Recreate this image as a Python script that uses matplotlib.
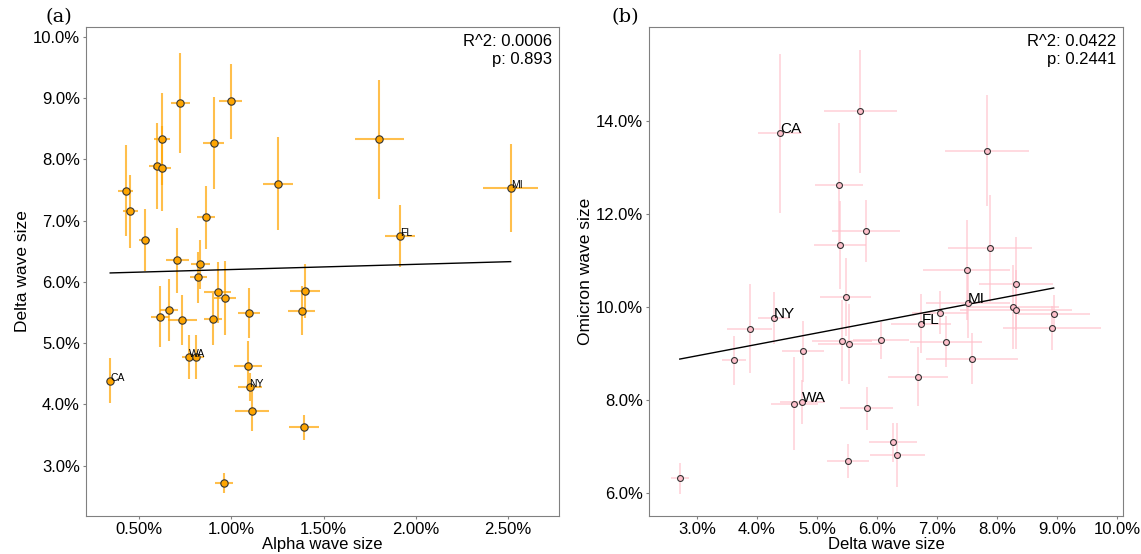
'''
Wave size correlations between successive COVID variants, per state.
'''

import numpy as np
import matplotlib
matplotlib.use('Agg')
import matplotlib.pyplot as plt
from matplotlib.ticker import PercentFormatter

# (a) Alpha vs Delta wave size, in percent
ALPHA = [0.723, 0.996, 0.625, 0.905, 1.802, 0.595, 0.626, 1.253, 2.514, 0.427,
         0.453, 0.862, 0.530, 1.915, 0.707, 0.832, 0.822, 0.927, 0.966, 1.401,
         1.381, 1.095, 0.662, 0.615, 0.735, 0.901, 0.773, 0.810, 1.093, 1.099,
         0.344, 1.113, 1.395, 0.962]
ALPHA_ERR = [0.052, 0.063, 0.041, 0.057, 0.133, 0.043, 0.050, 0.082, 0.150, 0.042,
             0.040, 0.050, 0.030, 0.080, 0.062, 0.052, 0.045, 0.074, 0.060, 0.080,
             0.072, 0.060, 0.050, 0.050, 0.080, 0.050, 0.040, 0.040, 0.076, 0.065,
             0.020, 0.090, 0.080, 0.050]
DELTA_A = [8.916, 8.950, 8.325, 8.266, 8.325, 7.886, 7.854, 7.599, 7.528, 7.490,
           7.149, 7.051, 6.683, 6.748, 6.352, 6.287, 6.076, 5.830, 5.734, 5.848,
           5.533, 5.490, 5.543, 5.430, 5.375, 5.397, 4.772, 4.772, 4.630, 4.288,
           4.391, 3.891, 3.625, 2.723]
DELTA_A_ERR = [0.82, 0.61, 0.75, 0.75, 0.97, 0.70, 0.69, 0.76, 0.72, 0.74,
               0.59, 0.52, 0.50, 0.50, 0.53, 0.40, 0.42, 0.50, 0.60, 0.44,
               0.40, 0.41, 0.51, 0.50, 0.41, 0.43, 0.36, 0.36, 0.40, 0.23,
               0.37, 0.33, 0.20, 0.16]
STATES_A = {30: 'CA', 26: 'WA', 29: 'NY', 13: 'FL', 8: 'MI'}
FIT_A = (6.117, 0.085)
STATS_A = 'R^2: 0.0006\np: 0.893'

# (b) Delta vs Omicron wave size, in percent
DELTA_B = [4.384, 5.720, 7.840, 5.360, 5.817, 5.384, 7.890, 7.494, 8.317, 5.476,
           7.512, 4.280, 7.050, 6.738, 8.262, 8.317, 8.945, 8.915, 3.878, 5.410,
           5.530, 6.067, 7.146, 4.762, 3.616, 7.585, 6.677, 4.622, 4.756, 5.829,
           6.274, 6.341, 5.524, 2.713]
DELTA_B_ERR = [0.37, 0.61, 0.70, 0.40, 0.57, 0.44, 0.70, 0.73, 0.61, 0.43,
               0.70, 0.27, 0.47, 0.50, 0.78, 0.94, 0.60, 0.82, 0.37, 0.50,
               0.52, 0.46, 0.60, 0.35, 0.20, 0.76, 0.50, 0.39, 0.37, 0.44,
               0.40, 0.46, 0.35, 0.15]
OMICRON = [13.73, 14.21, 13.36, 12.63, 11.63, 11.33, 11.26, 10.80, 10.50, 10.22,
           10.09, 9.764, 9.880, 9.643, 10.00, 9.940, 9.857, 9.550, 9.536, 9.270,
           9.200, 9.279, 9.257, 9.043, 8.850, 8.886, 8.500, 7.914, 7.957, 7.820,
           7.093, 6.814, 6.686, 6.314]
OMICRON_ERR = [1.70, 1.32, 1.19, 1.33, 0.67, 0.95, 1.15, 1.08, 1.00, 0.84,
               0.75, 0.55, 0.46, 0.63, 0.90, 0.85, 0.40, 0.48, 0.96, 0.87,
               0.86, 0.39, 0.54, 0.66, 0.53, 0.55, 0.64, 1.00, 0.48, 0.46,
               0.42, 0.68, 0.36, 0.33]
STATES_B = {0: 'CA', 11: 'NY', 28: 'WA', 13: 'FL', 10: 'MI'}
FIT_B = (8.214, 0.2452)
STATS_B = 'R^2: 0.0422\np: 0.2441'


def draw_panel(ax, x, xerr, y, yerr, states, fit, stats, color, msize,
               elw, label_size):
    '''
    Draws one scatter panel with error bars, fit line and state labels.
    '''
    ax.errorbar(x, y, xerr=xerr, yerr=yerr, fmt='none', ecolor=color,
                elinewidth=elw, alpha=0.7, zorder=1)
    ax.scatter(x, y, s=msize, c=color, edgecolors='#333333',
               linewidths=0.8, zorder=3)

    xs = np.array([min(x), max(x)])
    ax.plot(xs, fit[0] + fit[1] * xs, color='black', lw=1, zorder=2)

    for i, name in states.items():
        ax.text(x[i], y[i], name, fontsize=label_size, zorder=4)

    ax.text(0.986, 0.985, stats, transform=ax.transAxes, ha='right',
            va='top', multialignment='right', fontsize=12)

    for s in ax.spines.values():
        s.set_color('#808080')
    ax.tick_params(colors='#808080', labelcolor='black', length=2, pad=2.5,
                   labelsize=12)


def main():
    plt.rcParams['font.family'] = ['Liberation Sans', 'DejaVu Sans']
    fig = plt.figure(figsize=(11.41, 5.54), dpi=100)
    ax1 = fig.add_axes([0.0754, 0.0686, 0.4145, 0.8827])
    ax2 = fig.add_axes([0.5688, 0.0686, 0.4154, 0.8827])

    draw_panel(ax1, ALPHA, ALPHA_ERR, DELTA_A, DELTA_A_ERR, STATES_A, FIT_A,
               STATS_A, 'orange', 28, 1.5, 7.5)
    ax1.set_xlim(0.213, 2.776)
    ax1.set_ylim(2.18, 10.16)
    ax1.set_xticks([0.5, 1.0, 1.5, 2.0, 2.5])
    ax1.set_yticks(np.arange(3, 11))
    ax1.xaxis.set_major_formatter(PercentFormatter(decimals=2))
    ax1.yaxis.set_major_formatter(PercentFormatter(decimals=1))
    ax1.set_xlabel('Alpha wave size', fontsize=12, labelpad=0)
    ax1.set_ylabel('Delta wave size', fontsize=12.5, labelpad=2)
    ax1.text(-0.057, 1.02, '(a)', transform=ax1.transAxes, ha='center',
             va='center', fontsize=14, family='DejaVu Serif')

    draw_panel(ax2, DELTA_B, DELTA_B_ERR, OMICRON, OMICRON_ERR, STATES_B,
               FIT_B, STATS_B, 'pink', 18, 1.2, 11)
    ax2.set_xlim(2.2, 10.1)
    ax2.set_ylim(5.505, 16.02)
    ax2.set_xticks(np.arange(3, 11))
    ax2.set_yticks([6, 8, 10, 12, 14])
    ax2.xaxis.set_major_formatter(PercentFormatter(decimals=1))
    ax2.yaxis.set_major_formatter(PercentFormatter(decimals=1))
    ax2.set_xlabel('Delta wave size', fontsize=12, labelpad=0)
    ax2.set_ylabel('Omicron wave size', fontsize=12.5, labelpad=2)
    ax2.text(-0.05, 1.02, '(b)', transform=ax2.transAxes, ha='center',
             va='center', fontsize=14, family='DejaVu Serif')

    fig.savefig('out.png', dpi=100)


if __name__ == '__main__':
    main()
